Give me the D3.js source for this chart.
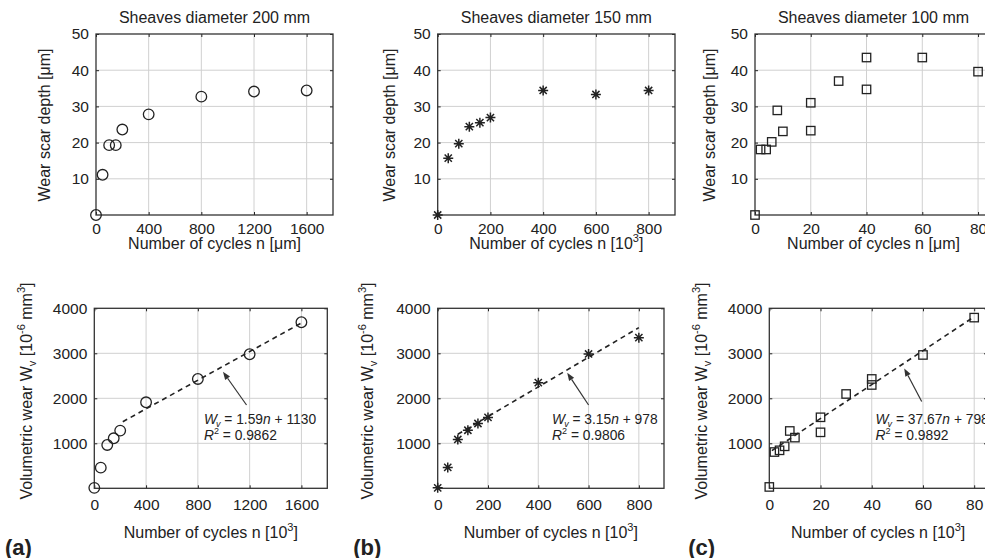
<!DOCTYPE html>
<html><head><meta charset="utf-8">
<script src="https://cdn.jsdelivr.net/npm/d3@7"></script>
<style>
body{margin:0;background:#fff}
svg{display:block}
text{font-family:"Liberation Sans",Arial,Helvetica,sans-serif;fill:#222}
</style>
</head><body><svg id="chart" width="985" height="558"></svg>
<script>
// ---------- data ----------
const titles = ["Sheaves diameter 200 mm", "Sheaves diameter 150 mm", "Sheaves diameter 100 mm"];
const panelLetters = ["(a)", "(b)", "(c)"];

// wear scar depth [µm] vs cycles
const depthN200 = [0, 50, 100, 150, 200, 400, 800, 1200, 1600];
const depth200  = [0, 11.1, 19.3, 19.3, 23.6, 27.8, 32.7, 34.1, 34.4];
const depthN150 = [0, 40, 80, 120, 160, 200, 400, 600, 800];
const depth150  = [0, 15.7, 19.7, 24.4, 25.5, 26.9, 34.4, 33.3, 34.4];
const depthN100 = [0, 2, 4, 6, 8, 10, 20, 20, 30, 40, 40, 60, 80];
const depth100  = [0, 18.1, 18.1, 20.2, 28.9, 23.1, 31.0, 23.3, 37.0, 43.5, 34.7, 43.5, 39.6];

// volumetric wear [1e-6 mm3] vs cycles [1e3]
const wearN200 = [0, 50, 100, 150, 200, 400, 800, 1200, 1600];
const wear200  = [10, 459, 963, 1111, 1282, 1911, 2430, 2979, 3690];
const wearN150 = [0, 40, 80, 120, 160, 200, 400, 600, 800];
const wear150  = [10, 465, 1085, 1290, 1440, 1575, 2348, 2985, 3348];
const wearN100 = [0, 2, 4, 6, 8, 10, 20, 20, 30, 40, 40, 60, 80];
const wear100  = [30, 806, 844, 933, 1274, 1126, 1578, 1244, 2096, 2430, 2296, 2963, 3793];

// fitted lines (end points as drawn) and their labels
const fitN0 = [220, 80, 1];
const fitW0 = [1480, 1200, 836];
const fitN1 = [1600, 800, 80];
const fitW1 = [3674, 3570, 3812];
const fitSlopeText = ["1.59", "3.15", "37.67"];
const fitInterceptText = ["1130", "978", "798"];
const fitR2Text = ["0.9862", "0.9806", "0.9892"];
// arrow (head / tail) and label anchor, in data units
const arrowHeadN = [994, 515, 52.7];
const arrowHeadW = [2590, 2570, 2665];
const arrowTailN = [1176, 600, 59.5];
const arrowTailW = [1851, 1851, 1927];
const labelN = [847, 455, 41.5];
const labelW = [1440, 1440, 1440];

// ticks
const xTicks200 = [0, 400, 800, 1200, 1600];
const xTicks150 = [0, 200, 400, 600, 800];
const xTicks100 = [0, 20, 40, 60, 80];
const depthTicks = [10, 20, 30, 40, 50];
const wearTicks = [1000, 2000, 3000, 4000];
const xMax = [1800, 900, 85];

// ---------- drawing ----------
const svg = d3.select("#chart");
const INK = "#222";
const GRID = "#d0d0d0";

const topBoxes = [[96, 34, 333, 215], [437.7, 34, 675, 215], [755, 34, 992, 215]];
const botBoxes = [[94.3, 308.3, 327.3, 488.3], [437.7, 308.3, 664, 488.3], [769.3, 308.3, 987, 488.3]];
const xTickSets = [xTicks200, xTicks150, xTicks100];
const depthX = [depthN200, depthN150, depthN100], depthY = [depth200, depth150, depth100];
const wearX = [wearN200, wearN150, wearN100], wearY = [wear200, wear150, wear100];
const markers = ["circle", "star", "square"];

function addMarker(g, type, cx, cy) {
  if (type === "circle") {
    g.append("circle").attr("cx", cx).attr("cy", cy).attr("r", 5.3)
      .attr("fill", "none").attr("stroke", INK).attr("stroke-width", 1.3);
  } else if (type === "square") {
    g.append("rect").attr("x", cx - 4.2).attr("y", cy - 4.2).attr("width", 8.4).attr("height", 8.4)
      .attr("fill", "none").attr("stroke", INK).attr("stroke-width", 1.3);
  } else {
    const a = 5, b = 3.6;
    const p = `M${cx - a},${cy}L${cx + a},${cy}M${cx},${cy - a}L${cx},${cy + a}` +
      `M${cx - b},${cy - b}L${cx + b},${cy + b}M${cx - b},${cy + b}L${cx + b},${cy - b}`;
    g.append("path").attr("d", p).attr("fill", "none").attr("stroke", INK).attr("stroke-width", 1.5);
  }
}

function frame(box, xd, yd, xt, yt, xPad) {
  const [x0, y0, x1, y1] = box;
  const x = d3.scaleLinear().domain(xd).range([x0, x1]);
  const y = d3.scaleLinear().domain(yd).range([y1, y0]);
  const g = svg.append("g");
  // grid
  g.append("g").selectAll("line").data(xt.filter(v => v > xd[0] && v < xd[1])).join("line")
    .attr("x1", d => x(d)).attr("x2", d => x(d)).attr("y1", y0).attr("y2", y1)
    .attr("stroke", GRID).attr("stroke-width", 1);
  g.append("g").selectAll("line").data(yt.filter(v => v > yd[0] && v < yd[1])).join("line")
    .attr("y1", d => y(d)).attr("y2", d => y(d)).attr("x1", x0).attr("x2", x1)
    .attr("stroke", GRID).attr("stroke-width", 1);
  // axes with inward ticks
  const ax = d3.axisBottom(x).tickValues(xt).tickSize(-3).tickPadding(xPad).tickFormat(d3.format("d"));
  const axT = d3.axisTop(x).tickValues(xt).tickSize(-3).tickFormat("");
  const ay = d3.axisLeft(y).tickValues(yt).tickSize(-3).tickPadding(7).tickFormat(d3.format("d"));
  const ayR = d3.axisRight(y).tickValues(yt).tickSize(-3).tickFormat("");
  [[ax, `translate(0,${y1})`], [axT, `translate(0,${y0})`], [ay, `translate(${x0},0)`], [ayR, `translate(${x1},0)`]]
    .forEach(([a, t]) => {
      const s = g.append("g").attr("transform", t).call(a);
      s.select(".domain").remove();
      s.selectAll(".tick line").attr("stroke", INK).attr("stroke-width", 1);
      s.selectAll("text").attr("font-size", 15.5).attr("fill", INK)
        .attr("font-family", '"Liberation Sans", Arial, sans-serif');
    });
  g.append("rect").attr("x", x0).attr("y", y0).attr("width", x1 - x0).attr("height", y1 - y0)
    .attr("fill", "none").attr("stroke", "#333").attr("stroke-width", 1.3);
  return { x, y, g };
}

function xLabel(cx, baseY, unitMicron) {
  const t = svg.append("text").attr("x", cx).attr("y", baseY).attr("text-anchor", "middle").attr("font-size", 16);
  if (unitMicron) { t.text("Number of cycles n [\u03BCm]"); return; }
  t.append("tspan").text("Number of cycles n [10");
  t.append("tspan").attr("font-size", 11).attr("dy", -7).text("3");
  t.append("tspan").attr("dy", 7).text("]");
}

// top row
topBoxes.forEach((box, i) => {
  const { x, y, g } = frame(box, [0, xMax[i]], [0, 50], xTickSets[i], depthTicks, 8);
  depthX[i].forEach((n, k) => addMarker(g, markers[i], x(n), y(depthY[i][k])));
  const cx = (box[0] + box[2]) / 2;
  svg.append("text").attr("x", cx).attr("y", 22.5).attr("text-anchor", "middle")
    .attr("font-size", 16).text(titles[i]);
  xLabel(cx, 248.5, i !== 1);
});
const topYLabelX = [50, 395, 715];
topYLabelX.forEach(bx => {
  svg.append("text").attr("transform", `translate(${bx},125) rotate(-90)`)
    .attr("text-anchor", "middle").attr("font-size", 16).text("Wear scar depth [\u03BCm]");
});

// bottom row
botBoxes.forEach((box, i) => {
  const { x, y, g } = frame(box, [0, xMax[i]], [0, 4000], xTickSets[i], wearTicks, 11);
  // fitted line
  g.append("line").attr("x1", x(fitN0[i])).attr("y1", y(fitW0[i]))
    .attr("x2", x(fitN1[i])).attr("y2", y(fitW1[i]))
    .attr("stroke", INK).attr("stroke-width", 1.6).attr("stroke-dasharray", "5,4");
  wearX[i].forEach((n, k) => addMarker(g, markers[i], x(n), y(wearY[i][k])));
  // arrow
  const hx = x(arrowHeadN[i]), hy = y(arrowHeadW[i]);
  const tx = x(arrowTailN[i]), ty = y(arrowTailW[i]);
  const ang = Math.atan2(hy - ty, hx - tx);
  const L = 8, Wd = 3;
  const bx = hx - L * Math.cos(ang), by = hy - L * Math.sin(ang);
  g.append("line").attr("x1", tx).attr("y1", ty).attr("x2", bx).attr("y2", by)
    .attr("stroke", "#333").attr("stroke-width", 1.2);
  g.append("path").attr("d",
    `M${hx},${hy}L${bx - Wd * Math.sin(ang)},${by + Wd * Math.cos(ang)}L${bx + Wd * Math.sin(ang)},${by - Wd * Math.cos(ang)}Z`)
    .attr("fill", "#333");
  // equation text
  const lx = x(labelN[i]), ly = y(labelW[i]);
  const t1 = svg.append("text").attr("x", lx).attr("y", ly).attr("font-size", 13.8);
  t1.append("tspan").attr("font-style", "italic").text("W");
  t1.append("tspan").attr("font-style", "italic").attr("font-size", 9).attr("dx", -1).attr("dy", 3).text("v");
  t1.append("tspan").attr("dy", -3).text(" = " + fitSlopeText[i]);
  t1.append("tspan").attr("font-style", "italic").text("n");
  t1.append("tspan").text(" + " + fitInterceptText[i]);
  const t2 = svg.append("text").attr("x", lx).attr("y", ly + 16).attr("font-size", 13.8);
  t2.append("tspan").attr("font-style", "italic").text("R");
  t2.append("tspan").attr("font-size", 9).attr("dy", -6).text("2");
  t2.append("tspan").attr("dy", 6).text(" = " + fitR2Text[i]);
  xLabel((box[0] + box[2]) / 2, 538.3, false);
});
const botYLabelX = [31.7, 373.3, 706.7];
botYLabelX.forEach(bx => {
  const t = svg.append("text").attr("transform", `translate(${bx},391) rotate(-90)`)
    .attr("text-anchor", "middle").attr("font-size", 16);
  t.append("tspan").text("Volumetric wear W");
  t.append("tspan").attr("font-size", 11).attr("dy", 4).text("v");
  t.append("tspan").attr("dy", -4).text(" [10");
  t.append("tspan").attr("font-size", 11).attr("dy", -7).text("-6");
  t.append("tspan").attr("dy", 7).text(" mm");
  t.append("tspan").attr("font-size", 11).attr("dy", -7).text("3");
  t.append("tspan").attr("dy", 7).text("]");
});

// panel letters
const letterX = [5, 353.3, 688.3];
letterX.forEach((lx, i) => {
  svg.append("text").attr("x", lx).attr("y", 555).attr("font-size", 22)
    .attr("font-weight", "bold").text(panelLetters[i]);
});
</script>
</body></html>
